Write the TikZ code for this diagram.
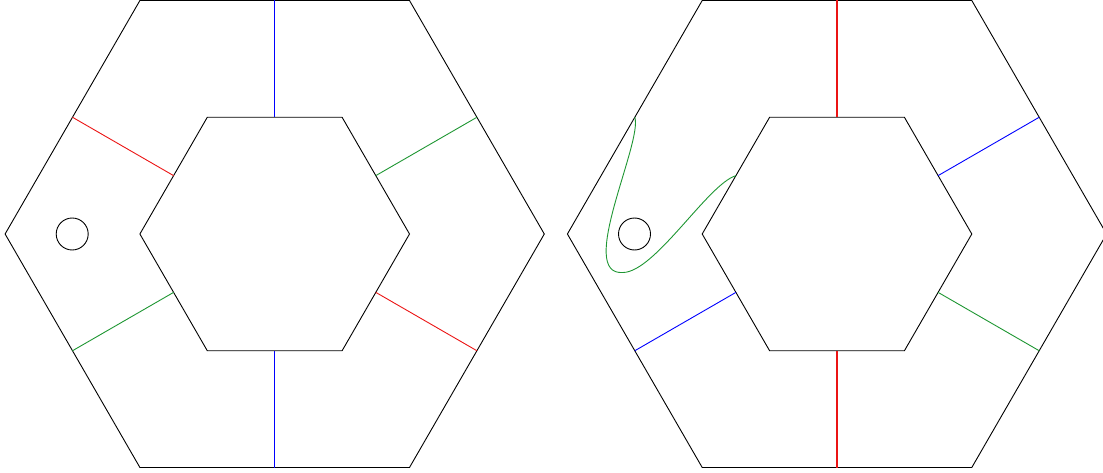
\documentclass[tikz,border=0pt]{standalone}
\usetikzlibrary{calc}
\definecolor{mygreen}{RGB}{30,150,50}
\definecolor{myred}{RGB}{235,20,20}
\begin{document}
\begin{tikzpicture}[x=1pt,y=1pt,line width=0.9pt,
  hexline/.style={draw=black,line width=0.9pt},
  spoke/.style={line width=0.9pt}]
\useasboundingbox (0,0) rectangle (1103,472);
\def\Ro{269.6}
\def\Ri{134.8}
\def\Mo{233.5}
\def\Mi{116.7}
% left figure
\begin{scope}[shift={(274.7,238)}]
  \draw[hexline] (0:\Ro) -- (60:\Ro) -- (120:\Ro) -- (180:\Ro) -- (240:\Ro) -- (300:\Ro) -- cycle;
  \draw[hexline] (0:\Ri) -- (60:\Ri) -- (120:\Ri) -- (180:\Ri) -- (240:\Ri) -- (300:\Ri) -- cycle;
  \draw[spoke,blue] (90:\Mo) -- (90:\Mi);
  \draw[spoke,blue] (270:\Mo) -- (270:\Mi);
  \draw[spoke,myred] (150:\Mo) -- (150:\Mi);
  \draw[spoke,myred] (330:\Mo) -- (330:\Mi);
  \draw[spoke,mygreen] (30:\Mo) -- (30:\Mi);
  \draw[spoke,mygreen] (210:\Mo) -- (210:\Mi);
  \node[draw,circle,minimum size=32pt,inner sep=0pt,line width=0.9pt] (c1) at (180:202.5) {};
\end{scope}
% right figure
\begin{scope}[shift={(837.0,238)}]
  \draw[hexline] (0:\Ro) -- (60:\Ro) -- (120:\Ro) -- (180:\Ro) -- (240:\Ro) -- (300:\Ro) -- cycle;
  \draw[hexline] (0:\Ri) -- (60:\Ri) -- (120:\Ri) -- (180:\Ri) -- (240:\Ri) -- (300:\Ri) -- cycle;
  \draw[spoke,myred,line width=1.3pt] (90:\Mo) -- (90:\Mi);
  \draw[spoke,myred,line width=1.3pt] (270:\Mo) -- (270:\Mi);
  \draw[spoke,blue] (30:\Mo) -- (30:\Mi);
  \draw[spoke,blue] (210:\Mo) -- (210:\Mi);
  \draw[spoke,mygreen] (330:\Mo) -- (330:\Mi);
  \node[draw,circle,minimum size=32pt,inner sep=0pt,line width=0.9pt] (c2) at (180:202.5) {};
  \coordinate (gs) at (150:\Mo);
  \coordinate (ge) at (150:\Mi);
\end{scope}
\coordinate (gb) at (623,199.5);
\draw[spoke,mygreen] (gs) .. controls (643,330) and (576,196) .. (gb)
  .. controls (655,200) and (708,288) .. (ge);
\end{tikzpicture}
\end{document}
